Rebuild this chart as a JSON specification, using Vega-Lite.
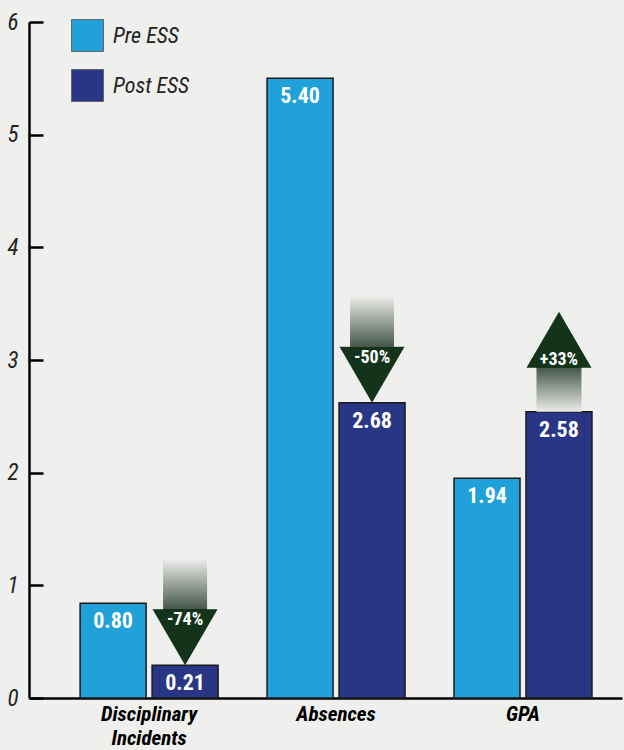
{
  "$schema": "https://vega.github.io/schema/vega-lite/v6.json",
  "width": 593,
  "height": 676,
  "autosize": "none",
  "padding": {"left": 29, "top": 22, "right": 2, "bottom": 52},
  "background": "#efefed",
  "config": {"view": {"stroke": null}},
  "data": {
    "values": [
      {"category": "Disciplinary Incidents", "period": "Pre ESS", "value": 0.84, "label": "0.80", "change": "", "direction": ""},
      {"category": "Disciplinary Incidents", "period": "Post ESS", "value": 0.29, "label": "0.21", "change": "-74%", "direction": "down"},
      {"category": "Absences", "period": "Pre ESS", "value": 5.5, "label": "5.40", "change": "", "direction": ""},
      {"category": "Absences", "period": "Post ESS", "value": 2.62, "label": "2.68", "change": "-50%", "direction": "down"},
      {"category": "GPA", "period": "Pre ESS", "value": 1.95, "label": "1.94", "change": "", "direction": ""},
      {"category": "GPA", "period": "Post ESS", "value": 2.54, "label": "2.58", "change": "+33%", "direction": "up"}
    ]
  },
  "encoding": {
    "x": {
      "field": "category",
      "type": "nominal",
      "scale": {"domain": ["Disciplinary Incidents", "Absences", "GPA"], "paddingInner": 0.262, "paddingOuter": 0.217, "align": 0.63},
      "axis": {
        "title": null,
        "domainColor": "#000",
        "domainWidth": 2.5,
        "ticks": false,
        "labelAngle": 0,
        "labelFont": "Liberation Sans Narrow, Roboto Condensed, DejaVu Sans Condensed, sans-serif",
        "labelFontStyle": "italic",
        "labelFontWeight": "bold",
        "labelFontSize": 21,
        "labelColor": "#000",
        "labelPadding": 5,
        "labelLineHeight": 24,
        "labelExpr": "datum.label == 'Disciplinary Incidents' ? ['Disciplinary', 'Incidents'] : datum.label"
      }
    },
    "xOffset": {
      "field": "period",
      "type": "nominal",
      "scale": {"domain": ["Pre ESS", "Post ESS"], "paddingInner": 0.083, "paddingOuter": 0}
    },
    "y": {
      "field": "value",
      "type": "quantitative",
      "scale": {"domain": [0, 6], "nice": false},
      "axis": {
        "title": null,
        "values": [0, 1, 2, 3, 4, 5, 6],
        "grid": false,
        "domainColor": "#000",
        "domainWidth": 2.5,
        "tickColor": "#000",
        "tickWidth": 2.5,
        "tickSize": -14,
        "labelPadding": 25,
        "labelFont": "Liberation Sans Narrow, Roboto Condensed, DejaVu Sans Condensed, sans-serif",
        "labelFontStyle": "italic",
        "labelFontWeight": "normal",
        "labelFontSize": 23,
        "labelColor": "#222"
      }
    }
  },
  "layer": [
    {
      "mark": {"type": "bar", "stroke": "#1b1b1b", "strokeWidth": 1.5},
      "encoding": {
        "color": {
          "field": "period",
          "type": "nominal",
          "scale": {"domain": ["Pre ESS", "Post ESS"], "range": ["#21a1d9", "#283685"]},
          "legend": {
            "orient": "none",
            "legendX": 42,
            "legendY": -3,
            "title": null,
            "padding": 0,
            "symbolType": "square",
            "symbolSize": 1024,
            "symbolStrokeColor": "#666",
            "symbolStrokeWidth": 1,
            "labelFont": "Liberation Sans Narrow, Roboto Condensed, DejaVu Sans Condensed, sans-serif",
            "labelFontStyle": "italic",
            "labelFontSize": 22,
            "labelColor": "#222",
            "labelOffset": 9,
            "rowPadding": 13
          }
        }
      }
    },
    {
      "mark": {"type": "text", "baseline": "top", "yOffset": 8, "color": "#ffffff", "fontSize": 22, "fontWeight": "bold", "font": "Liberation Sans Narrow, Roboto Condensed, DejaVu Sans Condensed, sans-serif"},
      "encoding": {"text": {"field": "label"}}
    },
    {
      "transform": [{"filter": "datum.direction == 'down'"}],
      "mark": {
        "type": "point",
        "filled": true,
        "opacity": 1,
        "strokeWidth": 0,
        "size": 11236,
        "yOffset": -53,
        "shape": "M -0.415 -1 L 0.415 -1 L 0.415 -0.06 L 0.613 -0.06 L 0 1 L -0.613 -0.06 L -0.415 -0.06 Z",
        "fill": {
          "gradient": "linear", "x1": 0, "y1": 0, "x2": 0, "y2": 1,
          "stops": [
            {"offset": 0, "color": "#ecedea"},
            {"offset": 0.47, "color": "#46574a"},
            {"offset": 0.47, "color": "#13331b"},
            {"offset": 1, "color": "#13331b"}
          ]
        }
      }
    },
    {
      "transform": [{"filter": "datum.direction == 'up'"}],
      "mark": {
        "type": "point",
        "filled": true,
        "opacity": 1,
        "strokeWidth": 0,
        "size": 10000,
        "yOffset": -50,
        "shape": "M 0 -1 L 0.65 0.12 L 0.45 0.12 L 0.45 1 L -0.45 1 L -0.45 0.12 L -0.65 0.12 Z",
        "fill": {
          "gradient": "linear", "x1": 0, "y1": 0, "x2": 0, "y2": 1,
          "stops": [
            {"offset": 0, "color": "#13331b"},
            {"offset": 0.56, "color": "#13331b"},
            {"offset": 0.56, "color": "#46574a"},
            {"offset": 1, "color": "#ecedea"}
          ]
        }
      }
    },
    {
      "transform": [{"filter": "datum.direction == 'down'"}],
      "mark": {"type": "text", "yOffset": -45, "color": "#ffffff", "fontSize": 18, "fontWeight": "bold", "font": "Liberation Sans Narrow, Roboto Condensed, DejaVu Sans Condensed, sans-serif"},
      "encoding": {"text": {"field": "change"}}
    },
    {
      "transform": [{"filter": "datum.direction == 'up'"}],
      "mark": {"type": "text", "yOffset": -52, "color": "#ffffff", "fontSize": 18, "fontWeight": "bold", "font": "Liberation Sans Narrow, Roboto Condensed, DejaVu Sans Condensed, sans-serif"},
      "encoding": {"text": {"field": "change"}}
    }
  ]
}
